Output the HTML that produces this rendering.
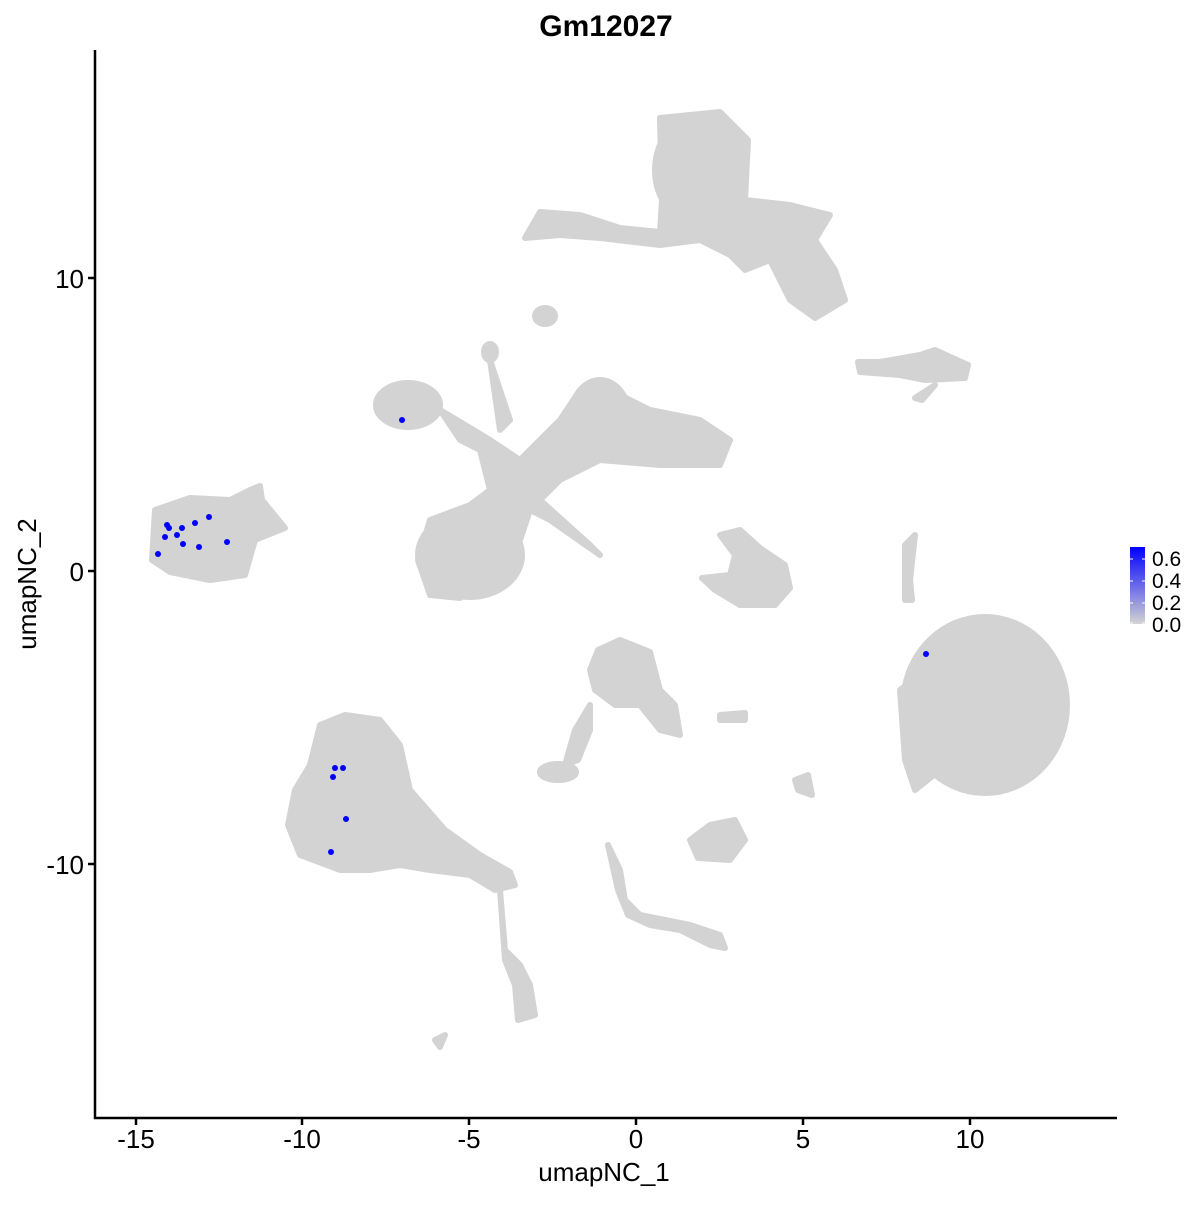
<!DOCTYPE html>
<html><head><meta charset="utf-8"><style>body{margin:0;background:#fff}</style></head><body>
<svg width="1200" height="1200" xmlns="http://www.w3.org/2000/svg" font-family="Liberation Sans, sans-serif">
<defs><linearGradient id="g" x1="0" y1="1" x2="0" y2="0"><stop offset="0" stop-color="#D3D3D3"/><stop offset="1" stop-color="#0000FF"/></linearGradient></defs>
<g fill="#D3D3D3" stroke="#D3D3D3" stroke-width="6" stroke-linejoin="round">
<path d="M660,118 L720,112 L748,140 L745,200 L790,205 L830,215 L815,240 L835,270 L845,300 L815,318 L790,300 L770,260 L745,270 L730,255 L700,240 L660,245 L600,238 L560,235 L525,238 L540,212 L580,215 L620,228 L660,232 L662,200 Z"/>
<ellipse cx="700" cy="170" rx="45" ry="55"/>
<ellipse cx="545" cy="316" rx="10" ry="8"/>
<ellipse cx="408" cy="405" rx="32" ry="22"/>
<path d="M440,410 L490,440 L520,460 L560,420 L580,390 L600,380 L620,395 L650,410 L700,420 L730,440 L720,465 L660,465 L600,460 L560,480 L540,500 L590,545 L600,555 L550,520 L530,510 L520,540 L500,570 L460,598 L430,595 L418,560 L430,520 L470,505 L490,490 L480,450 L460,440 Z"/>
<ellipse cx="600" cy="420" rx="30" ry="40"/>
<ellipse cx="470" cy="555" rx="52" ry="42"/>
<ellipse cx="490" cy="352" rx="6" ry="8"/>
<path d="M490,360 L510,420 L500,430 Z"/>
<path d="M155,510 L190,498 L230,500 L250,490 L260,486 L262,500 L285,528 L255,540 L245,575 L210,580 L170,572 L152,560 Z"/>
<ellipse cx="985" cy="705" rx="82" ry="88"/>
<path d="M900,690 L935,665 L940,770 L915,790 L905,760 Z"/>
<path d="M905,545 L915,535 L910,580 L912,600 L905,600 Z"/>
<path d="M858,362 L880,362 L920,355 L935,350 L968,365 L965,378 L925,380 L900,375 L860,372 Z"/>
<path d="M915,398 L935,385 L922,400 Z"/>
<path d="M720,535 L740,530 L760,548 L785,565 L790,588 L775,605 L740,605 L715,590 L702,578 L730,575 L735,555 Z"/>
<path d="M320,725 L345,715 L380,720 L400,745 L410,790 L445,830 L480,855 L510,872 L515,885 L495,890 L470,875 L430,870 L400,865 L370,870 L340,870 L300,855 L288,825 L295,790 L310,765 Z"/>
<path d="M500,890 L505,950 L520,965 L530,985 L535,1015 L518,1020 L515,985 L505,960 Z"/>
<path d="M598,650 L620,640 L650,652 L660,690 L675,705 L680,735 L660,730 L640,705 L615,705 L595,690 L590,670 Z"/>
<path d="M590,705 L575,730 L565,765 L578,760 L590,730 Z"/>
<ellipse cx="558" cy="772" rx="18" ry="8"/>
<path d="M690,840 L710,825 L735,820 L745,840 L730,860 L698,858 Z"/>
<path d="M608,845 L620,870 L625,900 L640,915 L665,920 L690,925 L720,935 L725,948 L710,945 L680,930 L650,925 L628,915 L618,890 Z"/>
<path d="M720,715 L745,713 L745,720 L720,720 Z"/>
<path d="M795,780 L808,775 L812,795 L798,790 Z"/>
<path d="M435,1040 L445,1035 L440,1047 Z"/>
</g>
<g fill="#0000FF">
<circle cx="402" cy="420" r="3"/><circle cx="167" cy="525" r="3"/><circle cx="169" cy="528" r="3"/><circle cx="182" cy="528" r="3"/><circle cx="195" cy="523" r="3"/><circle cx="209" cy="517" r="3"/><circle cx="165" cy="537" r="3"/><circle cx="177" cy="535" r="3"/><circle cx="183" cy="544" r="3"/><circle cx="199" cy="547" r="3"/><circle cx="227" cy="542" r="3"/><circle cx="158" cy="554" r="3"/><circle cx="926" cy="654" r="3"/><circle cx="335" cy="768" r="3"/><circle cx="343" cy="768" r="3"/><circle cx="333" cy="777" r="3"/><circle cx="346" cy="819" r="3"/><circle cx="331" cy="852" r="3"/>
</g>
<g stroke="#000" stroke-width="2.5" fill="none">
<path d="M95,50 V1118 H1117"/>
<path d="M136,1118v7M302,1118v7M469,1118v7M636,1118v7M803,1118v7M970,1118v7M95,278h-7M95,571h-7M95,864h-7"/>
</g>
<g font-size="26" fill="#000" text-anchor="middle">
<text x="136" y="1148">-15</text><text x="302" y="1148">-10</text><text x="469" y="1148">-5</text><text x="636" y="1148">0</text><text x="803" y="1148">5</text><text x="970" y="1148">10</text>
<text x="604" y="1181">umapNC_1</text>
<text x="606" y="36" font-size="30" font-weight="bold">Gm12027</text>
</g>
<g font-size="26" fill="#000" text-anchor="end">
<text x="84" y="288">10</text><text x="84" y="581">0</text><text x="84" y="874">-10</text>
</g>
<text transform="translate(36,584) rotate(-90)" font-size="26" text-anchor="middle">umapNC_2</text>
<rect x="1130" y="547" width="15" height="77" fill="url(#g)"/>
<g stroke="#fff" stroke-width="1"><path d="M1130,559h3M1142,559h3M1130,581h3M1142,581h3M1130,603h3M1142,603h3M1130,623h3M1142,623h3"/></g>
<g font-size="21" fill="#000">
<text x="1152" y="566">0.6</text><text x="1152" y="588">0.4</text><text x="1152" y="610">0.2</text><text x="1152" y="632">0.0</text>
</g>
</svg>
</body></html>
